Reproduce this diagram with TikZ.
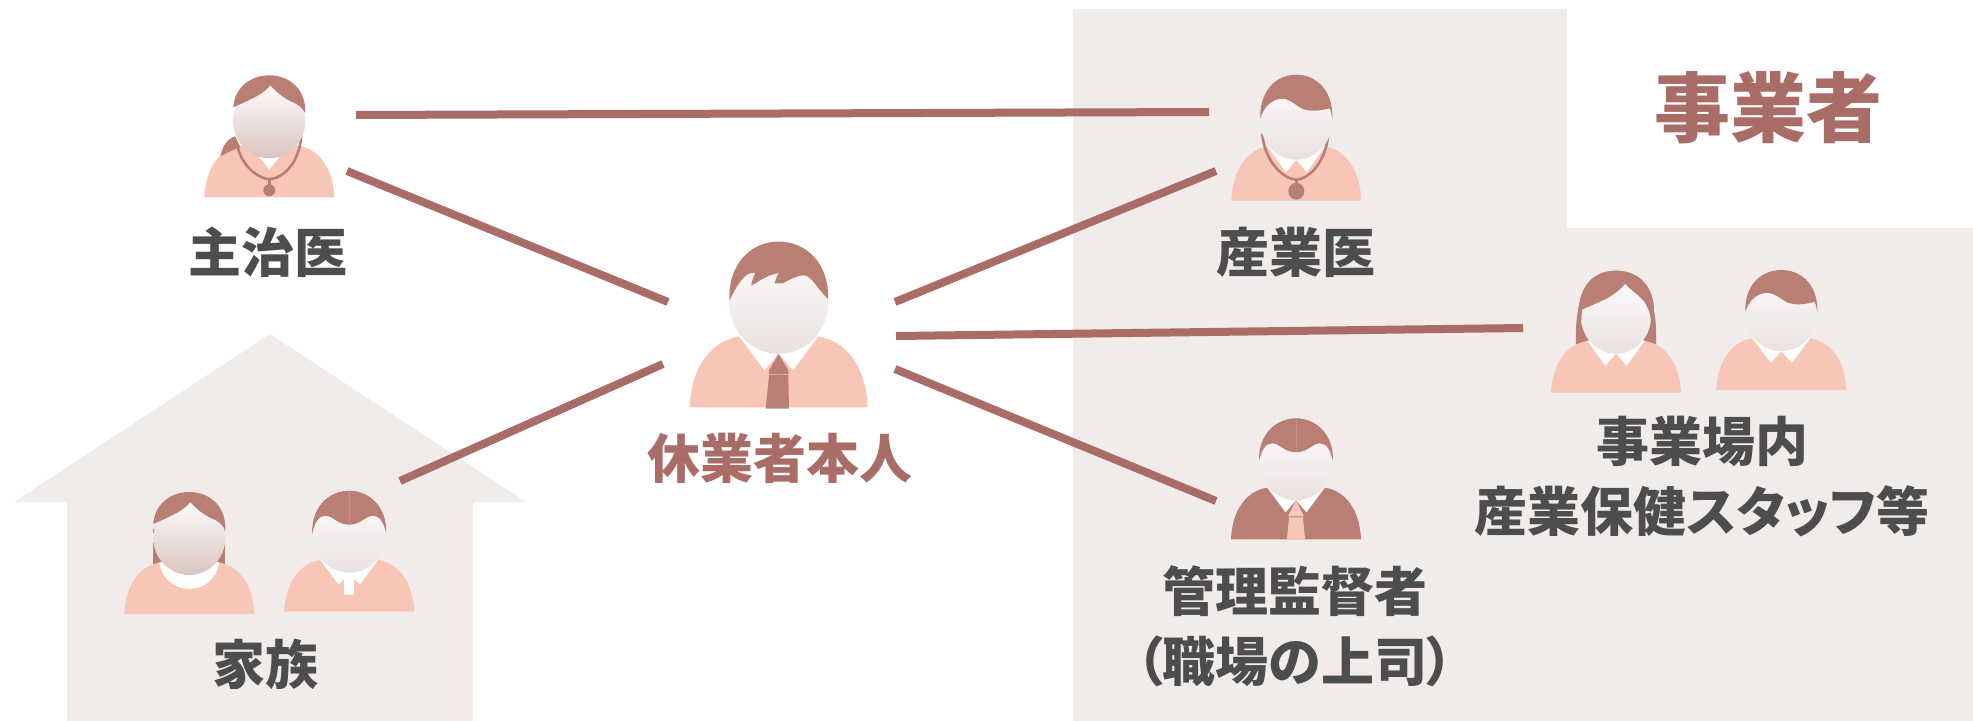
\documentclass[tikz,border=0pt]{standalone}
\usepackage{fontspec}
\usepackage{xcolor}
\usepackage{tikz}
\usetikzlibrary{positioning,calc}
\newfontfamily\cjk{Noto Sans CJK JP Black}
\definecolor{panel}{HTML}{F1ECEA}
\definecolor{linkred}{HTML}{A96C66}
\definecolor{hairred}{HTML}{B97F75}
\definecolor{skin}{HTML}{F8C6B7}
\definecolor{namegray}{HTML}{4D4D4D}
\definecolor{facetop}{HTML}{FDFBFB}
\definecolor{facebot}{HTML}{E9E1E0}
\definecolor{facedark}{HTML}{D9C4C1}
% shared parts of the figures, px offsets from the foot of the body
\newcommand{\personbody}[1]{\fill[#1] (-65,0) .. controls (-64,-28) and (-50,-50) .. (-26,-52) -- (26,-52) .. controls (50,-50) and (64,-28) .. (65,0) -- cycle;}
\newcommand{\personface}[1]{\shade[top color=facetop, bottom color=#1] (0,-76) ellipse [x radius=36, y radius=37];}
\newcommand{\vcollar}{\fill[white] (-29,-52) -- (-10.5,-27) -- (0,-39) -- (10.5,-27) -- (29,-52) -- cycle;}
\newcommand{\sweephair}{\fill[hairred] (-36,-78) .. controls (-37,-105) and (-20,-120) .. (0,-120) .. controls (20,-120) and (37,-105) .. (36,-78) .. controls (35,-82) and (35,-86) .. (33,-88) .. controls (25,-86) and (14,-84) .. (5,-88) .. controls (-2,-92) and (-8,-98) .. (-16,-97) .. controls (-26,-96) and (-33,-88) .. (-36,-78) -- cycle;}
\newcommand{\partedhair}{\fill[hairred] (-37,-78) .. controls (-38,-105) and (-20,-121) .. (0,-121) .. controls (20,-121) and (38,-105) .. (37,-78) .. controls (35,-88) and (31,-96) .. (24,-96) .. controls (16,-96) and (12,-87) .. (0,-87) .. controls (-12,-87) and (-16,-96) .. (-24,-96) .. controls (-31,-96) and (-35,-88) .. (-37,-78) -- cycle;
  \draw[hairred!85!white, line width=0.4pt] (0,-121) -- (0,-87);}
\newcommand{\banghair}{\fill[hairred] (-36,-86) .. controls (-37,-108) and (-20,-122) .. (0,-122) .. controls (20,-122) and (37,-108) .. (36,-84) .. controls (34,-88) and (30,-92) .. (26,-94) .. controls (16,-98) and (8,-104) .. (1,-112) .. controls (-6,-103) and (-18,-98) .. (-36,-90) -- cycle;}
\tikzset{
  link/.style={line width=4pt, color=linkred},
  name label/.style={font=\cjk\fontsize{26.5}{35}\selectfont, text=namegray, align=center, inner sep=0pt},
  tube/.style={draw=hairred, line width=1.3pt},
  pics/patient/.style={code={
    \personbody{skin}
    \vcollar
    \fill[hairred] (0,-39) -- (-7,-27) -- (-7,-24) -- (7,-24) -- (7,-27) -- cycle;
    \fill[hairred] (-7,-23.5) -- (7,-23.5) -- (7.5,1) -- (-9.5,1) -- cycle;
    \personface{facebot}
    \fill[hairred] (-36,-78) .. controls (-37,-105) and (-20,-121) .. (0,-121) .. controls (20,-121) and (37,-105) .. (36,-79) .. controls (31,-84) and (27,-90) .. (23,-94) .. controls (20,-98) and (15,-97) .. (3,-90.5) -- (-3,-90.5) .. controls (-2,-94) and (-1,-96) .. (0,-98) .. controls (-8,-97) and (-14,-92) .. (-20,-89) .. controls (-20,-92) and (-18,-96) .. (-17,-98) .. controls (-24,-100) and (-30,-90) .. (-36,-78) -- cycle;
  }},
  pics/mainDoctor/.style={code={
    \personbody{skin}
    \fill[white] (-11,-41) -- (0,-28) -- (12,-42) -- cycle;
    \fill[hairred] (-49,-41) .. controls (-47,-52) and (-41,-59) .. (-34,-61) -- (-29,-50) .. controls (-36,-48) and (-43,-44) .. (-49,-41) -- cycle;
    \draw[tube] (-32,-52) .. controls (-28,-32) and (-12,-19) .. (0,-18) .. controls (14,-19) and (30,-34) .. (32,-62);
    \draw[tube] (0,-18) -- (0,-8);
    \fill[hairred] (0,-7) circle [radius=6];
    \personface{facedark}
    \banghair
  }},
  pics/companyDoctor/.style={code={
    \personbody{skin}
    \vcollar
    \draw[tube] (-34,-64) .. controls (-32,-38) and (-14,-21) .. (0,-20) .. controls (14,-21) and (30,-38) .. (32,-64);
    \draw[tube] (0,-20) -- (0,-10);
    \fill[hairred] (0,-9) circle [radius=8];
    \personface{facebot}
    \sweephair
  }},
  pics/manager/.style={code={
    \personbody{hairred}
    \vcollar
    \fill[skin] (0,-39) -- (-8,-23) -- (8,-23) -- cycle;
    \fill[skin] (-7,-22) -- (7,-22) -- (9,0) -- (-9,0) -- cycle;
    \personface{facebot}
    \partedhair
  }},
  pics/staffWoman/.style={code={
    \fill[hairred] (-40,-48) .. controls (-42,-100) and (-25,-122) .. (0,-122) .. controls (25,-122) and (42,-100) .. (40,-48) -- cycle;
    \personbody{skin}
    \vcollar
    \shade[top color=facetop, bottom color=facebot] (0,-76) ellipse [x radius=35, y radius=37];
    \fill[hairred] (-34,-83) .. controls (-20,-90) and (-3,-94) .. (9,-109) .. controls (17,-100) and (28,-95) .. (31,-86) .. controls (34,-80) and (35,-76) .. (34,-73) -- (38,-85) .. controls (36,-110) and (20,-122) .. (0,-122) .. controls (-20,-122) and (-38,-110) .. (-38,-75) -- (-35,-70) -- cycle;
  }},
  pics/staffMan/.style={code={
    \personbody{skin}
    \vcollar
    \personface{facebot}
    \sweephair
  }},
  pics/familyWoman/.style={code={
    \fill[hairred] (-36,-45) -- (-36,-85) -- (36,-85) -- (36,-45) -- cycle;
    \personbody{skin}
    \fill[white] (-30,-52) .. controls (-28,-35) and (-14,-25) .. (0,-25) .. controls (14,-25) and (28,-35) .. (30,-52) -- cycle;
    \personface{facedark}
    \banghair
  }},
  pics/familyMan/.style={code={
    \personbody{skin}
    \fill[white] (-29,-52) -- (-10.5,-27) -- (-5,-33) -- (-5,-17) -- (5,-17) -- (5,-33) -- (10.5,-27) -- (29,-52) -- cycle;
    \personface{facebot}
    \partedhair
  }}
}

\begin{document}
\begin{tikzpicture}[x=0.5pt, y=-0.5pt]
    \useasboundingbox (0,0) rectangle (1973,721);

    % Backgrounds
    \fill [panel] (1073,9) -- (1567,9) -- (1567,228) -- (1973,228) -- (1973,721) -- (1073,721) -- cycle;
    \fill [panel] (270,334) -- (526,502) -- (473,502) -- (473,721) -- (67,721) -- (67,502) -- (14,502) -- cycle;

    % Figures
    \pic [scale=1.37] at (778.7,407.3) {patient};
    \pic at (269.3,197.3) {mainDoctor};
    \pic [yscale=1.05] at (1296.3,200.7) {companyDoctor};
    \pic at (1296,539.3) {manager};
    \pic at (1616,392.7) {staffWoman};
    \pic at (1781.3,390) {staffMan};
    \pic at (189.3,614) {familyWoman};
    \pic at (349.2,611.7) {familyMan};

    % Labels
    \node [name label, text=linkred] (Patient) at (780,458) {休業者本人};
    \node [name label] (MainDoc) at (268,252) {主治医};
    \node [name label] (Family) at (265,664) {家族};
    \node [name label] (CompanyDoc) at (1296,252) {産業医};
    \node [name label] (Staff) at (1702,477) {事業場内\\{\addfontfeatures{RawFeature=+palt}産業保健スタッフ等}};
    \node [name label] (Manager) at (1295,626) {管理監督者\\{\addfontfeatures{RawFeature=+palt}（職場の上司）}};
    \node [name label, text=linkred, font=\cjk\fontsize{38}{45}\selectfont] (Employer) at (1768,108) {事業者};

    % Line ends
    \coordinate (MainDocTop) at (356,115);
    \coordinate (MainDocLow) at (347,171);
    \coordinate (CompanyDocTop) at (1209,112);
    \coordinate (CompanyDocLow) at (1216,171);
    \coordinate (StaffEnd) at (1523,328);
    \coordinate (ManagerEnd) at (1216,501);
    \coordinate (FamilyEnd) at (400,481);
    \coordinate (PatientUL) at (668,302);
    \coordinate (PatientLL) at (663,364);
    \coordinate (PatientUR) at (895,302);
    \coordinate (PatientMR) at (896,336);
    \coordinate (PatientLR) at (895,369);

    % Connections
    \draw [link] (MainDocTop) -- (CompanyDocTop);
    \draw [link] (MainDocLow) -- (PatientUL);
    \draw [link] (FamilyEnd) -- (PatientLL);
    \draw [link] (PatientUR) -- (CompanyDocLow);
    \draw [link] (PatientMR) -- (StaffEnd);
    \draw [link] (PatientLR) -- (ManagerEnd);
\end{tikzpicture}
\end{document}
